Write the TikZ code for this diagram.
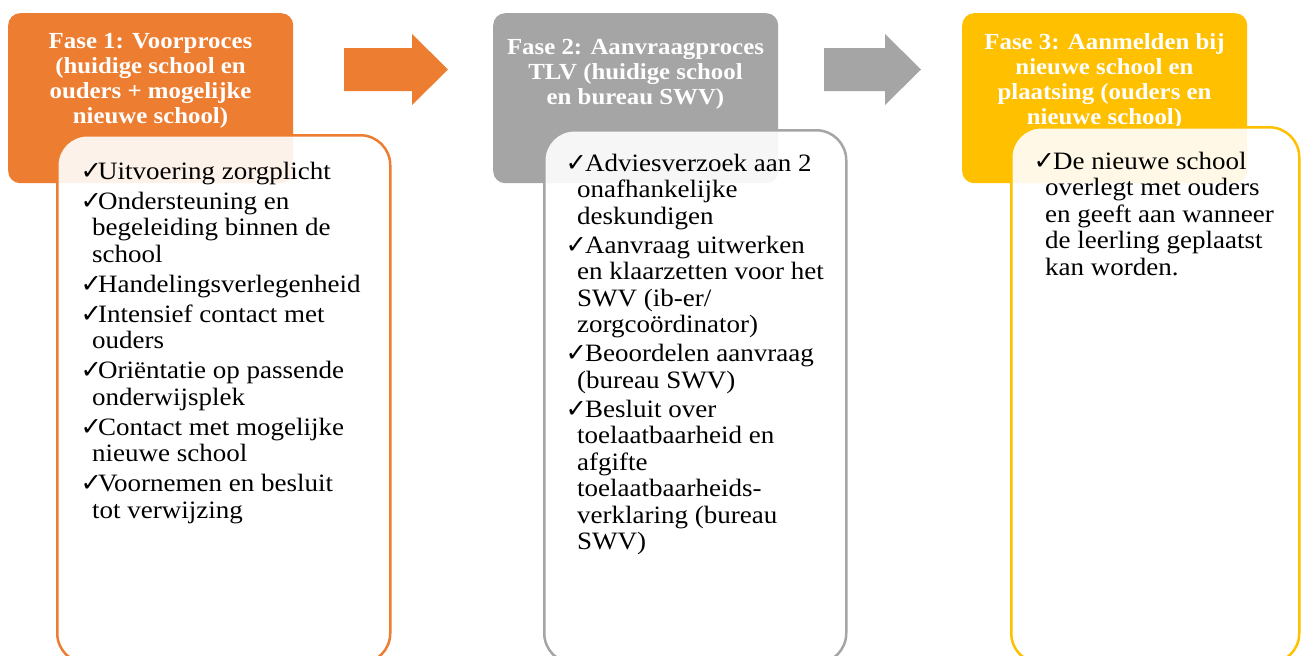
\documentclass[tikz,border=0pt]{standalone}
\usepackage{fontspec}
\setmainfont[FakeStretch=1.08]{Liberation Serif}
\newfontfamily\symfont{DejaVu Sans}
\definecolor{forange}{HTML}{ED7D31}
\definecolor{fgray}{HTML}{A5A5A5}
\definecolor{fgold}{HTML}{FFC000}
\newcommand{\ckmark}{{\symfont\fontsize{30}{30}\selectfont\scalebox{0.85}[0.85]{✓}}}
\newcommand{\ck}{\makebox[16pt][l]{\hspace*{-1.5pt}\ckmark}}
\newcommand{\ckk}{\makebox[18pt][l]{\hspace*{-1.5pt}\ckmark}}
\newcommand{\ind}{\hspace*{10pt}}
\tikzset{
  hdrbox/.style={rectangle, rounded corners=12pt, minimum width=285pt, minimum height=170pt, inner sep=0pt, anchor=north west},
  innerbox/.style={rectangle, rounded corners=30pt, draw, line width=2.5pt, fill=white, fill opacity=0.9, inner sep=0pt, anchor=north west},
  hdrtext/.style={text=white, font=\fontsize{23}{25}\selectfont\bfseries, align=center, inner sep=0pt, anchor=north},
  bodytext/.style={text=black, font=\fontsize{25}{26.5}\selectfont, align=left, inner sep=0pt, anchor=north west},
  blockarrow/.style={fill=#1}
}
\begin{document}
\begin{tikzpicture}[x=1pt,y=-1pt]
\useasboundingbox (0,0) rectangle (1304,656);
\clip (0,0) rectangle (1304,656);
\fill[white] (0,0) rectangle (1304,656);

% headers
\node[hdrbox, fill=forange] (h1) at (8,13) {};
\node[hdrbox, fill=fgray] (h2) at (493,13) {};
\node[hdrbox, fill=fgold] (h3) at (962,13) {};

\node[hdrtext] (ht1) at (150.5,33) {Fase 1: Voorproces\\(huidige school en\\ouders + mogelijke\\nieuwe school)};
\node[hdrtext] (ht2) at (635.5,39.5) {Fase 2: Aanvraagproces\\TLV (huidige school\\en bureau SWV)};
\node[hdrtext] (ht3) at (1104.5,33) {Fase 3: Aanmelden bij\\nieuwe school en\\plaatsing (ouders en\\nieuwe school)};

% arrows
\fill[blockarrow=forange] (344,48) -- (412,48) -- (412,34) -- (448,69.5) -- (412,105) -- (412,91) -- (344,91) -- cycle;
\fill[blockarrow=fgray] (824,48) -- (885,48) -- (885,34) -- (921,69.5) -- (885,105) -- (885,91) -- (824,91) -- cycle;

% inner boxes
\node[innerbox, draw=forange, minimum width=333pt, minimum height=528pt] (b1) at (56,134) {};
\node[innerbox, draw=fgray, minimum width=302pt, minimum height=533pt] (b2) at (543,129) {};
\node[innerbox, draw=fgold, minimum width=288pt, minimum height=536pt] (b3) at (1010,126) {};

% body texts
\node[bodytext] (t1) at (82,161.5) {%
\ck Uitvoering zorgplicht\\[3.5pt]
\ck Ondersteuning en\\
\ind begeleiding binnen de\\
\ind school\\[3.5pt]
\ck Handelingsverlegenheid\\[3.5pt]
\ck Intensief contact met\\
\ind ouders\\[3.5pt]
\ck Oriëntatie op passende\\
\ind onderwijsplek\\[3.5pt]
\ck Contact met mogelijke\\
\ind nieuwe school\\[3.5pt]
\ck Voornemen en besluit\\
\ind tot verwijzing};

\node[bodytext] (t2) at (567,153.5) {%
\ckk Adviesverzoek aan 2\\
\ind onafhankelijke\\
\ind deskundigen\\[2.5pt]
\ckk Aanvraag uitwerken\\
\ind en klaarzetten voor het\\
\ind SWV (ib-er/\\
\ind zorgcoördinator)\\[2.5pt]
\ckk Beoordelen aanvraag\\
\ind (bureau SWV)\\[2.5pt]
\ckk Besluit over\\
\ind toelaatbaarheid en\\
\ind afgifte\\
\ind toelaatbaarheids-\\
\ind verklaring (bureau\\
\ind SWV)};

\node[bodytext] (t3) at (1035,151.5) {%
\ckk De nieuwe school\\
\ind overlegt met ouders\\
\ind en geeft aan wanneer\\
\ind de leerling geplaatst\\
\ind kan worden.};
\end{tikzpicture}
\end{document}
